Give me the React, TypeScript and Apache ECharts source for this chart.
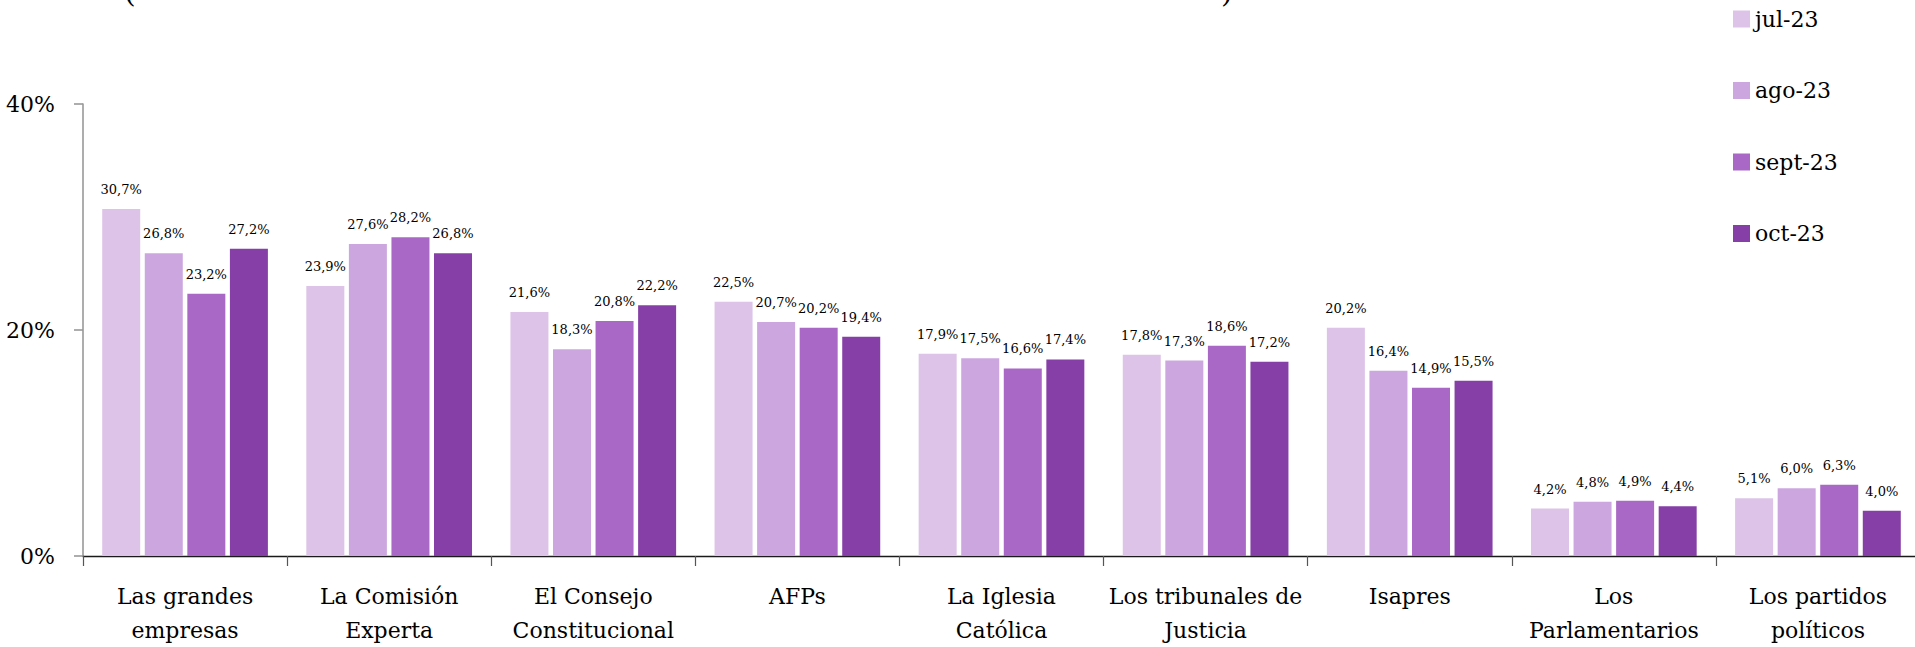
import React, { useEffect, useRef } from "react";
import * as echarts from "echarts";

const categories = [
  "Las grandes\nempresas",
  "La Comisión\nExperta",
  "El Consejo\nConstitucional",
  "AFPs",
  "La Iglesia\nCatólica",
  "Los tribunales de\nJusticia",
  "Isapres",
  "Los\nParlamentarios",
  "Los partidos\npolíticos",
];

const seriesNames = ["jul-23", "ago-23", "sept-23", "oct-23"];
const jul23 = [30.7, 23.9, 21.6, 22.5, 17.9, 17.8, 20.2, 4.2, 5.1];
const ago23 = [26.8, 27.6, 18.3, 20.7, 17.5, 17.3, 16.4, 4.8, 6.0];
const sept23 = [23.2, 28.2, 20.8, 20.2, 16.6, 18.6, 14.9, 4.9, 6.3];
const oct23 = [27.2, 26.8, 22.2, 19.4, 17.4, 17.2, 15.5, 4.4, 4.0];
const seriesColors = ["#DDC3E8", "#CCA6DF", "#A968C5", "#863FA6"];
const yTicks = [0, 20, 40];

const FONT = "'Palatino Linotype', 'Book Antiqua', Palatino, 'DejaVu Serif', serif";

export default function App() {
  const ref = useRef<HTMLDivElement>(null);
  useEffect(() => {
    if (!ref.current) return;
    const chart = echarts.init(ref.current, null, { renderer: "svg" });
    const values = [jul23, ago23, sept23, oct23];
    chart.setOption({
      animation: false,
      backgroundColor: "#ffffff",
      textStyle: { fontFamily: FONT },
      grid: {
        left: 83,
        right: -5,
        top: 104,
        bottom: 91,
        outerBoundsMode: "none",
        containLabel: false,
      },
      legend: {
        orient: "vertical",
        left: 1728,
        top: 2,
        itemWidth: 17,
        itemHeight: 17,
        itemGap: 47.5,
        icon: "rect",
        data: seriesNames,
        textStyle: {
          fontFamily: FONT,
          fontSize: 22,
          color: "#000",
          lineHeight: 24,
        },
      },
      graphic: [
        {
          type: "text",
          left: 124,
          top: -24,
          style: { text: "(", font: `30px ${FONT}`, fill: "#000" },
        },
        {
          type: "text",
          left: 1221,
          top: -24,
          style: { text: ")", font: `30px ${FONT}`, fill: "#000" },
        },
      ],
      xAxis: {
        type: "category",
        data: categories,
        axisLine: { show: true, lineStyle: { color: "#1a1a1a", width: 1.3 } },
        axisTick: { show: true, length: 10, lineStyle: { color: "#555", width: 1.2 } },
        axisLabel: {
          interval: 0,
          margin: 23,
          fontFamily: FONT,
          fontSize: 22,
          lineHeight: 34,
          color: "#000",
        },
      },
      yAxis: {
        type: "value",
        min: 0,
        max: 40,
        interval: 20,
        axisLine: { show: true, lineStyle: { color: "#999", width: 1.6 } },
        axisTick: { show: true, length: 9, lineStyle: { color: "#999", width: 1.6 } },
        splitLine: { show: false },
        axisLabel: {
          margin: 28,
          fontFamily: FONT,
          fontSize: 22,
          color: "#000",
          formatter: (v: number) => (yTicks.includes(v) ? `${v}%` : ""),
        },
      },
      series: seriesNames.map((name, i) => ({
        name,
        type: "bar",
        data: values[i],
        barWidth: 38,
        barGap: "12%",
        itemStyle: { color: seriesColors[i] },
        label: {
          show: true,
          position: "top",
          distance: 13,
          fontFamily: FONT,
          fontSize: 13,
          color: "#000",
          formatter: (p: any) => `${Number(p.value).toFixed(1).replace(".", ",")}%`,
        },
      })),
    });
    return () => chart.dispose();
  }, []);
  return (
    <div
      ref={ref}
      style={{ position: "fixed", left: 0, top: 0, width: 1915, height: 647 }}
    />
  );
}
